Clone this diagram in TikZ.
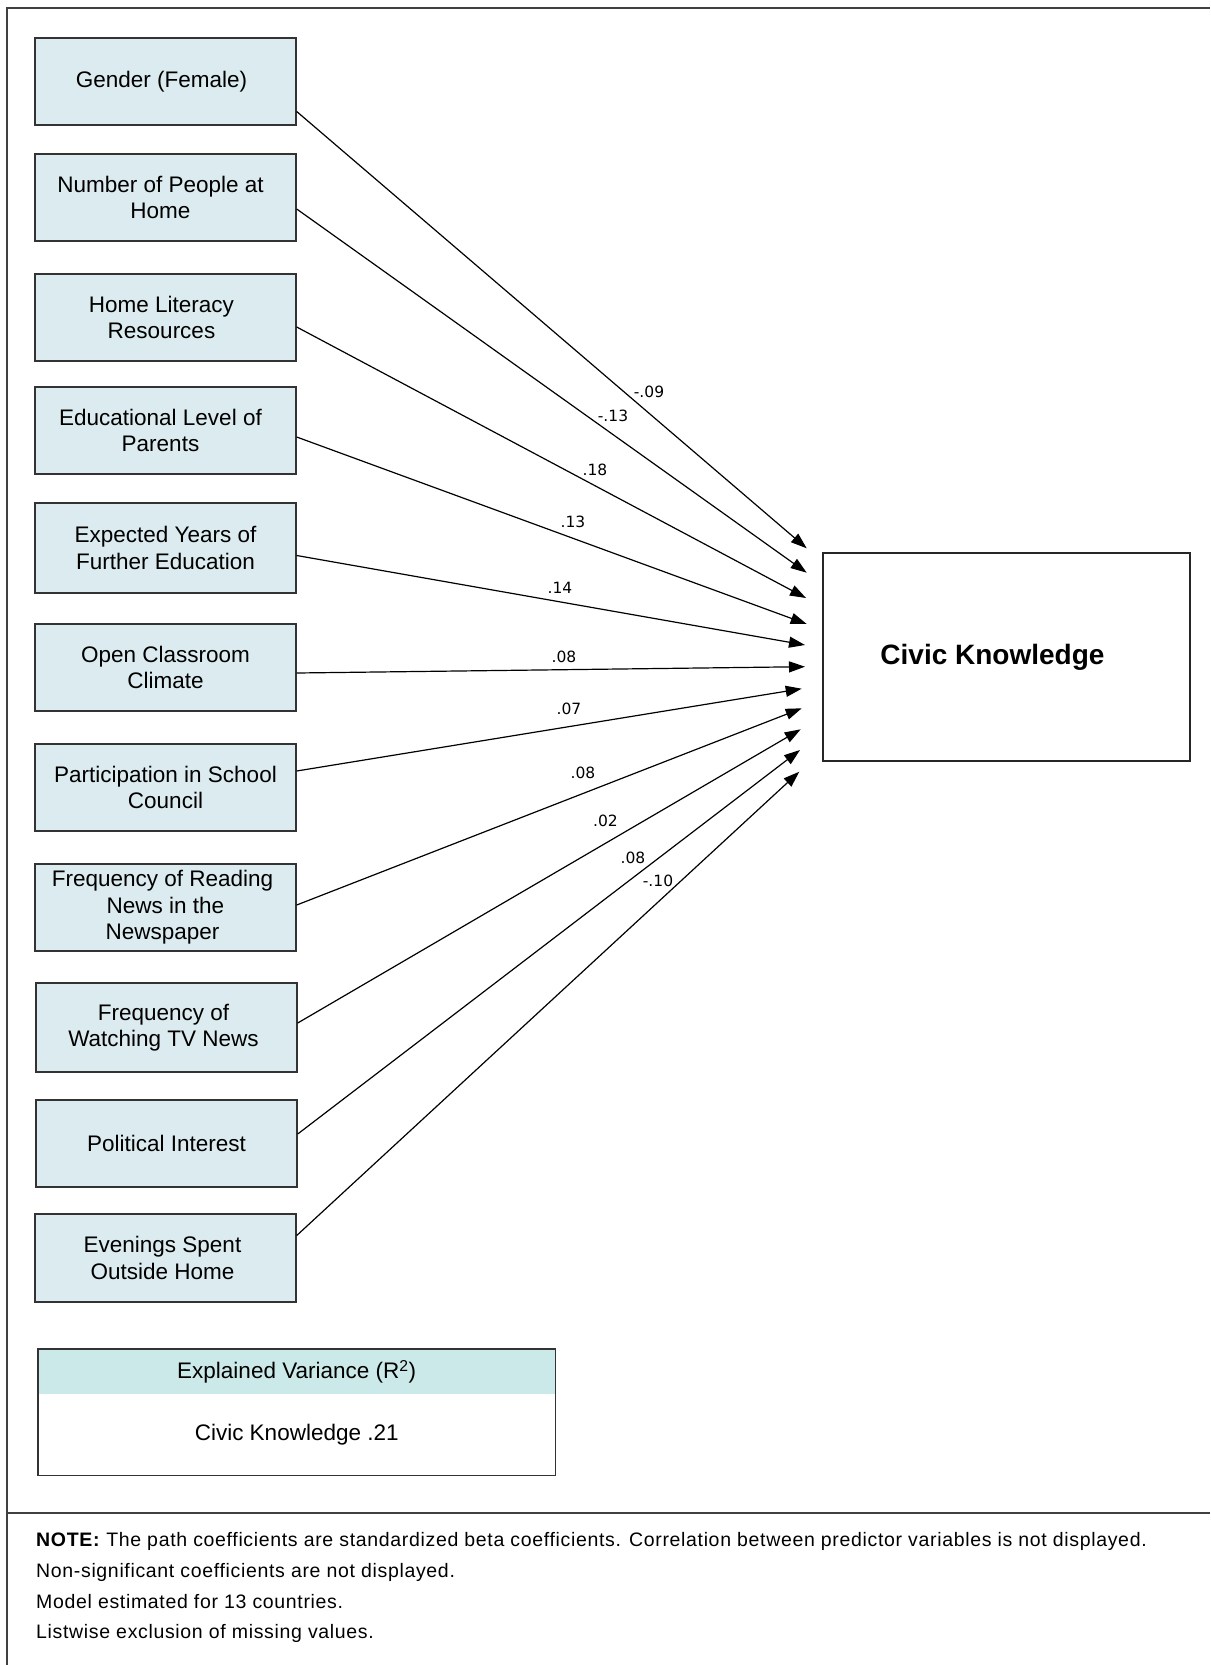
\documentclass[tikz,border=0pt]{standalone}
\usepackage{fontspec}
\setmainfont{Liberation Sans}
\newfontfamily\dvfont{DejaVu Sans}
\newfontfamily\notefont[LetterSpace=3.4]{Liberation Sans}
\usetikzlibrary{arrows.meta}
\definecolor{boxfill}{HTML}{DBEBEF}
\definecolor{headfill}{HTML}{CCE9E9}
\definecolor{boxline}{HTML}{333333}
\begin{document}
\begin{tikzpicture}[x=1pt,y=-1pt,
  pred/.style={draw=boxline, line width=1.4pt, fill=boxfill, minimum width=261pt,
    minimum height=87pt, align=center, inner sep=0pt,
    font=\fontsize{22.5}{26.5}\selectfont},
  conn/.style={line width=1.2pt, -{Triangle[length=16pt,width=11pt]}},
  coef/.style={font=\dvfont\fontsize{15.5}{18}\selectfont, inner sep=0pt},
  frame/.style={line width=1.3pt, draw=black!75}]
\useasboundingbox (0,0) rectangle (1210,1665);
% frame
\draw[frame] (7,1665) -- (7,8) -- (1210,8);
\draw[frame] (7,1513) -- (1210,1513);
% predictor boxes
\node[pred] (g)  at (165.5,81.5)  {Gender (Female)\hspace*{8pt}};
\node[pred] (n)  at (165.5,197.5) {Number of People at\hspace*{10pt}\\Home\hspace*{10pt}};
\node[pred] (h)  at (165.5,317.5) {Home Literacy\hspace*{8pt}\\Resources\hspace*{8pt}};
\node[pred] (e)  at (165.5,430.5) {Educational Level of\hspace*{10pt}\\Parents\hspace*{10pt}};
\node[pred, minimum height=90pt] (x)  at (165.5,548) {Expected Years of\\Further Education};
\node[pred] (o)  at (165.5,667.5) {Open Classroom\\Climate};
\node[pred] (p)  at (165.5,787.5) {Participation in School\\Council};
\node[pred] (r)  at (165.5,907.5) {Frequency of Reading\hspace*{6pt}\\News in the\hspace*{6pt}\\Newspaper\hspace*{6pt}};
\node[pred, minimum height=89pt] (t)  at (166.5,1027.5) {Frequency of\hspace*{6pt}\\Watching TV News\hspace*{6pt}};
\node[pred] (pi) at (166.5,1143.5) {Political Interest};
\node[pred, minimum height=88pt] (ev) at (165.5,1258) {Evenings Spent\hspace*{6pt}\\Outside Home\hspace*{6pt}};
% outcome
\node[draw=black!85, line width=1.4pt, minimum width=367pt, minimum height=208pt,
  font=\fontsize{28}{32}\selectfont\bfseries] (ck) at (1006.5,657) {Civic Knowledge\hspace*{28pt}};
% arrow tips
\coordinate (t1) at (806.7,548.3);
\coordinate (t2) at (806.7,572.7);
\coordinate (t3) at (806,598);
\coordinate (t4) at (806.7,624);
\coordinate (t5) at (805,645);
\coordinate (t6) at (805,666.7);
\coordinate (t7) at (801.7,688.7);
\coordinate (t8) at (801.7,708.3);
\coordinate (t9) at (800.7,729.3);
\coordinate (t10) at (800,750);
\coordinate (t11) at (799.3,771.7);
% connectors
\draw[conn] ([yshift=-30pt]g.east) -- (t1);
\draw[conn] ([yshift=-11.5pt]n.east) -- (t2);
\draw[conn] ([yshift=-9.5pt]h.east) -- (t3);
\draw[conn] ([yshift=-6.5pt]e.east) -- (t4);
\draw[conn] ([yshift=-7.5pt]x.east) -- (t5);
\draw[conn] ([yshift=-5.5pt]o.east) -- (t6);
\draw[conn] ([yshift=16.5pt]p.east) -- (t7);
\draw[conn] ([yshift=2.5pt]r.east) -- (t8);
\draw[conn] ([yshift=4.5pt]t.east) -- (t9);
\draw[conn] ([yshift=9.5pt]pi.east) -- (t10);
\draw[conn] ([yshift=22.5pt]ev.east) -- (t11);
% coefficients
\node[coef] (c1) at (649,391.5) {-.09};
\node[coef] (c2) at (613,415.5) {-.13};
\node[coef] (c3) at (595,470) {.18};
\node[coef] (c4) at (573,522) {.13};
\node[coef] (c5) at (560,587.5) {.14};
\node[coef] (c6) at (564,657) {.08};
\node[coef] (c7) at (569,709) {.07};
\node[coef] (c8) at (583,772.5) {.08};
\node[coef] (c9) at (605.5,821) {.02};
\node[coef] (c10) at (633,858) {.08};
\node[coef] (c11) at (658,881) {-.10};
% explained variance
\node[fill=headfill, minimum width=517pt, minimum height=45pt, anchor=north west,
  inner sep=0pt, font=\fontsize{22.5}{26.5}\selectfont] (evh) at (38,1349)
  {Explained Variance (R\textsuperscript{2})};
\node[minimum width=517pt, minimum height=81pt, anchor=north west, inner sep=0pt,
  font=\fontsize{22.5}{26.5}\selectfont] (evb) at (38,1394) {Civic Knowledge .21};
\draw[draw=boxline, line width=1.4pt] (evh.north west) rectangle (evb.south east);
% note
\begin{scope}[every node/.style={anchor=base west, inner sep=0pt, font=\notefont\fontsize{19.5}{22}\selectfont}]
\node (n1) at (36,1546) {\textbf{NOTE:} The path coefficients are standardized beta coefficients. Correlation between predictor variables is not displayed.};
\node (n2) at (36,1577) {Non-significant coefficients are not displayed.};
\node (n3) at (36,1608) {Model estimated for 13 countries.};
\node (n4) at (36,1638) {Listwise exclusion of missing values.};
\end{scope}
\end{tikzpicture}
\end{document}
